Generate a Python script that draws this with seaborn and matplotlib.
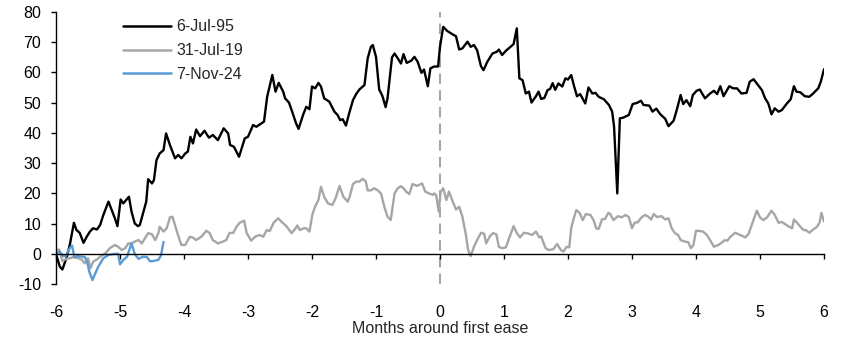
import matplotlib
matplotlib.use("Agg")
import matplotlib.pyplot as plt
import numpy as np
import pandas as pd
import seaborn as sns

# ---------------- data ----------------
series_names = ["6-Jul-95", "31-Jul-19", "7-Nov-24"]
series_colors = ["#000000", "#A6A6A6", "#5B9BD5"]
x_ticks = [-6, -5, -4, -3, -2, -1, 0, 1, 2, 3, 4, 5, 6]
y_ticks = [-10, 0, 10, 20, 30, 40, 50, 60, 70, 80]
x_label = "Months around first ease"

months_95 = [
    -6.00, -5.94, -5.90, -5.83, -5.78, -5.72, -5.68, -5.63, -5.57, -5.52,
    -5.47, -5.42, -5.36, -5.31, -5.26, -5.18, -5.13, -5.08, -5.04, -4.99,
    -4.95, -4.86, -4.82, -4.77, -4.72, -4.69, -4.64, -4.59, -4.56, -4.50,
    -4.47, -4.43, -4.38, -4.32, -4.28, -4.22, -4.14, -4.09, -4.04, -3.98,
    -3.94, -3.90, -3.86, -3.81, -3.75, -3.68, -3.61, -3.55, -3.47, -3.38,
    -3.31, -3.28, -3.22, -3.14, -3.05, -3.00, -2.92, -2.87, -2.75, -2.70,
    -2.62, -2.57, -2.52, -2.45, -2.42, -2.36, -2.31, -2.25, -2.21, -2.14,
    -2.09, -2.04, -2.00, -1.95, -1.90, -1.86, -1.81, -1.73, -1.65, -1.60,
    -1.56, -1.52, -1.47, -1.42, -1.36, -1.31, -1.26, -1.18, -1.13, -1.08,
    -1.05, -1.00, -0.95, -0.90, -0.85, -0.82, -0.75, -0.71, -0.66, -0.61,
    -0.57, -0.52, -0.45, -0.40, -0.35, -0.29, -0.25, -0.19, -0.15, -0.09,
    -0.03, 0.00, 0.05, 0.11, 0.19, 0.25, 0.30, 0.35, 0.43, 0.48,
    0.53, 0.58, 0.64, 0.68, 0.74, 0.82, 0.89, 0.92, 0.97, 1.03,
    1.10, 1.15, 1.20, 1.24, 1.29, 1.34, 1.39, 1.43, 1.50, 1.54,
    1.58, 1.63, 1.68, 1.72, 1.76, 1.80, 1.85, 1.91, 1.96, 2.00,
    2.05, 2.09, 2.14, 2.19, 2.27, 2.32, 2.38, 2.43, 2.48, 2.56,
    2.64, 2.69, 2.72, 2.77, 2.81, 2.86, 2.95, 3.01, 3.08, 3.14,
    3.18, 3.27, 3.32, 3.38, 3.44, 3.52, 3.57, 3.65, 3.70, 3.76,
    3.80, 3.85, 3.91, 3.95, 4.01, 4.06, 4.14, 4.22, 4.28, 4.33,
    4.38, 4.43, 4.52, 4.58, 4.64, 4.71, 4.79, 4.84, 4.90, 4.95,
    5.03, 5.08, 5.13, 5.18, 5.23, 5.29, 5.34, 5.42, 5.48, 5.53,
    5.57, 5.63, 5.70, 5.77, 5.83, 5.91, 5.95, 6.00,
]
values_95 = [
    0.0, -4.2, -5.1, -0.9, 3.5, 10.3, 7.9, 7.0, 3.7, 5.7,
    7.4, 8.5, 8.1, 9.6, 12.9, 17.3, 14.5, 11.8, 9.2, 18.0,
    16.7, 18.9, 14.0, 10.1, 9.2, 9.6, 13.4, 17.3, 24.7, 23.3,
    24.4, 31.0, 33.2, 34.3, 39.8, 36.0, 31.6, 32.7, 31.6, 33.2,
    33.8, 38.7, 36.5, 41.1, 38.9, 40.7, 38.4, 39.3, 37.6, 41.5,
    39.8, 36.0, 35.4, 32.1, 38.2, 38.7, 42.6, 42.0, 43.7, 52.0,
    59.1, 53.6, 56.5, 53.6, 51.4, 50.0, 47.0, 43.2, 41.3, 45.9,
    48.6, 47.8, 55.3, 54.7, 56.5, 55.3, 51.4, 50.3, 47.0, 45.9,
    44.2, 44.5, 42.4, 46.4, 50.8, 52.8, 54.3, 55.8, 64.6, 68.4,
    69.0, 65.1, 54.3, 52.2, 48.5, 51.4, 64.9, 66.2, 64.6, 62.9,
    66.0, 63.1, 63.8, 65.1, 63.5, 59.8, 60.9, 55.4, 61.3, 61.9,
    61.9, 68.4, 75.0, 73.7, 72.6, 71.9, 67.5, 67.9, 70.1, 68.4,
    69.0, 67.3, 62.0, 60.7, 63.5, 66.2, 66.8, 67.5, 65.7, 67.1,
    68.4, 69.3, 74.5, 58.0, 57.4, 53.0, 53.6, 50.0, 52.1, 53.6,
    51.2, 51.5, 54.1, 54.5, 56.4, 54.2, 56.3, 55.3, 58.0, 57.6,
    59.1, 55.8, 52.1, 52.8, 49.7, 55.0, 53.0, 53.2, 51.9, 51.1,
    49.2, 47.0, 42.0, 20.0, 44.8, 45.0, 45.9, 49.5, 49.9, 50.6,
    49.2, 49.0, 47.0, 48.0, 46.2, 44.6, 42.2, 44.0, 47.6, 52.5,
    49.5, 50.8, 48.8, 52.5, 53.9, 54.3, 51.4, 53.0, 53.9, 52.8,
    55.4, 52.1, 55.4, 54.7, 54.7, 53.0, 53.2, 56.9, 57.7, 56.3,
    54.1, 51.4, 49.7, 46.1, 48.1, 47.0, 47.5, 49.7, 51.1, 55.4,
    53.6, 53.4, 52.1, 51.9, 53.0, 54.7, 56.9, 61.0,
]

months_19 = [
    -6.00, -5.95, -5.90, -5.83, -5.78, -5.72, -5.65, -5.60, -5.55, -5.50,
    -5.46, -5.42, -5.36, -5.31, -5.23, -5.16, -5.08, -5.03, -4.97, -4.92,
    -4.87, -4.82, -4.77, -4.71, -4.66, -4.61, -4.56, -4.50, -4.45, -4.40,
    -4.38, -4.32, -4.27, -4.22, -4.18, -4.11, -4.06, -4.04, -3.98, -3.91,
    -3.86, -3.81, -3.73, -3.65, -3.60, -3.55, -3.47, -3.39, -3.34, -3.29,
    -3.23, -3.18, -3.13, -3.06, -3.02, -2.95, -2.89, -2.82, -2.76, -2.71,
    -2.66, -2.60, -2.53, -2.47, -2.40, -2.32, -2.27, -2.23, -2.19, -2.13,
    -2.09, -2.04, -1.99, -1.94, -1.90, -1.86, -1.81, -1.75, -1.68, -1.63,
    -1.57, -1.51, -1.44, -1.41, -1.36, -1.31, -1.26, -1.21, -1.16, -1.13,
    -1.08, -1.03, -0.97, -0.92, -0.87, -0.82, -0.77, -0.71, -0.66, -0.61,
    -0.56, -0.53, -0.48, -0.43, -0.36, -0.28, -0.23, -0.17, -0.11, -0.09,
    -0.06, -0.02, 0.01, 0.05, 0.10, 0.14, 0.19, 0.25, 0.30, 0.35,
    0.40, 0.44, 0.48, 0.53, 0.58, 0.64, 0.69, 0.72, 0.78, 0.83,
    0.88, 0.92, 0.97, 1.03, 1.08, 1.15, 1.20, 1.25, 1.31, 1.37,
    1.44, 1.50, 1.55, 1.58, 1.65, 1.70, 1.77, 1.83, 1.89, 1.93,
    1.98, 2.02, 2.05, 2.09, 2.13, 2.18, 2.23, 2.28, 2.35, 2.40,
    2.44, 2.48, 2.53, 2.58, 2.63, 2.66, 2.71, 2.78, 2.84, 2.90,
    2.95, 3.00, 3.04, 3.09, 3.15, 3.20, 3.25, 3.30, 3.34, 3.39,
    3.46, 3.52, 3.57, 3.62, 3.67, 3.72, 3.76, 3.83, 3.88, 3.92,
    3.96, 4.00, 4.06, 4.11, 4.17, 4.22, 4.28, 4.35, 4.40, 4.45,
    4.49, 4.53, 4.61, 4.69, 4.77, 4.82, 4.89, 4.95, 5.00, 5.05,
    5.11, 5.18, 5.23, 5.29, 5.34, 5.39, 5.44, 5.50, 5.53, 5.58,
    5.64, 5.68, 5.72, 5.77, 5.82, 5.89, 5.93, 5.96, 6.00,
]
values_19 = [
    1.0, 1.5, -2.3, -1.5, -1.4, -0.9, -1.4, -1.8, -3.1, -1.4,
    -4.7, -2.5, -1.8, -0.9, 0.2, 1.9, 3.0, 2.4, 1.3, 1.9,
    3.5, 3.5, 4.1, 4.6, 3.5, 5.2, 6.9, 6.5, 4.6, 6.9,
    9.0, 7.4, 8.5, 12.1, 12.3, 7.4, 4.1, 3.0, 3.0, 5.7,
    5.4, 4.6, 5.7, 7.7, 6.9, 4.6, 3.5, 4.1, 4.6, 6.9,
    7.0, 9.0, 10.3, 11.0, 6.9, 4.4, 5.7, 6.3, 5.7, 7.9,
    7.6, 10.3, 11.8, 10.5, 9.2, 6.9, 8.1, 9.4, 7.9, 8.5,
    8.5, 7.4, 13.4, 16.2, 17.8, 22.2, 18.9, 16.7, 16.2, 18.5,
    22.5, 18.9, 17.3, 19.0, 23.1, 23.9, 23.9, 24.8, 24.0, 21.0,
    21.0, 21.7, 21.0, 19.9, 15.6, 12.3, 11.2, 20.0, 21.7, 22.4,
    21.5, 20.6, 19.8, 23.1, 22.5, 23.3, 20.6, 20.0, 19.5, 20.0,
    19.5, 14.0, 20.6, 21.7, 17.8, 20.6, 17.8, 14.7, 15.6, 12.3,
    6.9, 1.3, -0.7, 2.4, 4.6, 7.0, 6.7, 3.5, 5.9, 6.9,
    6.5, 2.4, 1.9, 2.2, 5.2, 9.2, 6.9, 5.5, 7.0, 6.8,
    6.3, 7.4, 5.5, 5.8, 1.9, 1.3, 1.6, 3.3, 1.3, 0.8,
    2.4, 2.2, 8.5, 11.8, 14.5, 13.6, 11.2, 13.2, 12.9, 11.2,
    8.5, 8.3, 11.4, 11.6, 13.6, 13.2, 11.2, 12.5, 12.1, 12.9,
    12.2, 8.5, 10.3, 10.5, 12.1, 12.9, 12.4, 11.4, 13.2, 12.2,
    12.5, 11.4, 11.8, 8.5, 6.9, 6.3, 4.6, 4.1, 3.9, 1.9,
    3.0, 7.7, 7.6, 7.4, 6.3, 4.6, 2.4, 3.0, 3.7, 4.6,
    4.4, 5.5, 7.0, 6.3, 5.5, 6.6, 10.7, 14.3, 12.1, 11.2,
    12.1, 14.3, 12.9, 10.3, 10.6, 9.9, 9.2, 8.5, 11.4, 10.3,
    8.8, 7.9, 7.9, 7.0, 7.9, 9.0, 10.3, 13.6, 10.7,
]

months_24 = [
    -6.00, -5.94, -5.89, -5.84, -5.80, -5.75, -5.71, -5.67, -5.61, -5.55,
    -5.51, -5.48, -5.43, -5.39, -5.34, -5.26, -5.18, -5.10, -5.03, -5.00,
    -4.95, -4.89, -4.82, -4.77, -4.71, -4.64, -4.58, -4.53, -4.47, -4.40,
    -4.36, -4.32,
]
values_24 = [
    0.0, 0.8, -0.7, -0.5, 1.5, 2.8, -1.2, -0.7, -0.8, -1.0,
    -2.8, -5.8, -8.6, -6.6, -4.2, -1.4, -0.3, 0.0, 0.1, -3.4,
    -2.0, -0.9, 3.5, 0.0, -1.6, -0.9, -1.0, -2.4, -2.3, -1.9,
    -0.5, 4.0,
]

# ---------------- build long table ----------------
frames = []
for name, mx, vy in zip(series_names,
                        [months_95, months_19, months_24],
                        [values_95, values_19, values_24]):
    frames.append(pd.DataFrame({"month": mx, "value": vy, "series": name}))
df = pd.concat(frames, ignore_index=True)

# ---------------- style ----------------
sns.set_style("ticks")
plt.rcParams["font.family"] = ["Liberation Sans", "DejaVu Sans"]
FS = 11.5

fig = plt.figure(figsize=(8.52, 3.39), dpi=100)
ax = fig.add_axes([56 / 852, 1 - 284.3 / 339, 768 / 852, 272.6 / 339])

ax.axvline(0, color="#A6A6A6", linestyle=(0, (5, 3)), linewidth=1.5, zorder=0)

sns.lineplot(
    data=df, x="month", y="value", hue="series",
    hue_order=series_names,
    palette=dict(zip(series_names, series_colors)),
    estimator=None, sort=False, linewidth=1.7, ax=ax,
)

ax.set_xlim(-6, 6)
ax.set_ylim(-10, 80)
ax.set_xticks(x_ticks)
ax.set_yticks(y_ticks)
ax.set_xticklabels([str(t) for t in x_ticks])
ax.set_yticklabels([str(t) for t in y_ticks])

for s in ["top", "right"]:
    ax.spines[s].set_visible(False)
ax.spines["bottom"].set_position(("data", 0))
ax.spines["bottom"].set_linewidth(1.0)
ax.spines["left"].set_linewidth(1.0)
ax.spines["bottom"].set_color("black")
ax.spines["left"].set_color("black")

ax.tick_params(axis="x", direction="out", length=3.6, width=1.0,
               pad=33, labelsize=FS, colors="black")
ax.tick_params(axis="y", direction="out", length=3.6, width=1.0,
               pad=7, labelsize=FS, colors="black")
ax.set_xlabel(x_label, fontsize=FS, labelpad=0.5)
ax.set_ylabel("")

leg = ax.get_legend()
handles = list(leg.legend_handles)
labels = [t.get_text() for t in leg.get_texts()]
for h in handles:
    h.set_linewidth(1.8)
ax.legend(handles, labels, loc="upper left", bbox_to_anchor=(0.087, 0.972),
          frameon=False, fontsize=FS, handlelength=3.0, handletextpad=0.35,
          labelspacing=0.55, borderpad=0, borderaxespad=0)

fig.savefig("out.png", dpi=100)
